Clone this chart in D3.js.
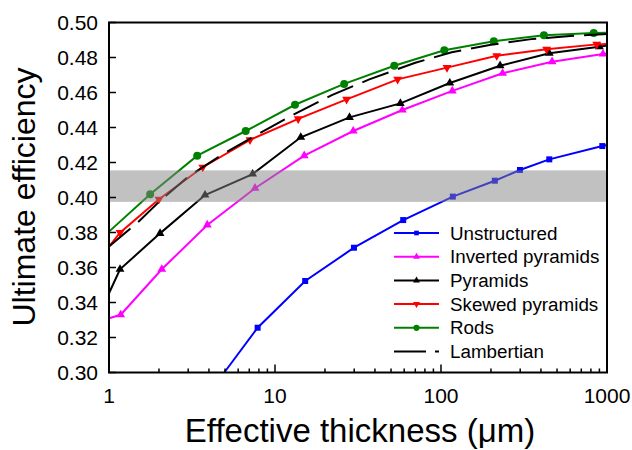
<!DOCTYPE html>
<html>
<head>
<meta charset="utf-8">
<script src="https://cdn.jsdelivr.net/npm/d3@7"></script>
<style>
  body { margin: 0; background: #fff; }
  text { font-family: Arial, "Liberation Sans", sans-serif; fill: #000; }
</style>
</head>
<body>
<svg id="chart"></svg>
<script>
// data (x = effective thickness in um, y = ultimate efficiency)
const unstructuredX = [7.86, 15.2, 29.9, 59.2, 117.8, 211, 299, 449, 937];
const unstructuredY = [0.3256, 0.3523, 0.3713, 0.3871, 0.4005, 0.4096, 0.4157, 0.4218, 0.4294];
const invertedX = [1.176, 2.08, 3.91, 7.58, 15.0, 29.6, 58.5, 117, 235, 467, 946];
const invertedY = [0.3330, 0.3590, 0.3843, 0.4053, 0.4239, 0.4380, 0.4500, 0.4609, 0.4710, 0.4776, 0.4820];
const pyramidsX = [1.165, 2.03, 3.79, 7.33, 14.3, 28.1, 56.9, 113, 227, 449, 900];
const pyramidsY = [0.3590, 0.3795, 0.4014, 0.4134, 0.4344, 0.4458, 0.4538, 0.4654, 0.4753, 0.4824, 0.4862];
const skewedX = [1.165, 2.0, 3.67, 7.07, 13.8, 27.0, 54.8, 108.7, 216.6, 433, 867];
const skewedY = [0.3799, 0.3990, 0.4173, 0.4329, 0.4449, 0.4561, 0.4675, 0.4742, 0.4810, 0.4847, 0.4875];
const rodsX = [1.77, 3.40, 6.66, 13.2, 26.1, 52.3, 104.7, 208, 417, 832];
const rodsY = [0.4018, 0.4239, 0.4380, 0.4530, 0.4649, 0.4753, 0.4841, 0.4893, 0.4927, 0.4940];
const lambertX = [1, 1.5, 2, 3, 5, 7.5, 13, 22, 37, 70, 116, 200, 350, 600, 1000];
const lambertY = [0.372, 0.386, 0.3975, 0.412, 0.4255, 0.435, 0.4475, 0.4585, 0.4675, 0.477, 0.483, 0.4873, 0.4905, 0.4923, 0.4934];

// where the marked lines meet the plot frame (left / right)
const lineStarts = { unstructured: [4.95, 0.30], inverted: [1, 0.3310], pyramids: [1, 0.3453], skewed: [1, 0.3719], rods: [1, 0.3805] };
const lineEnds = { unstructured: [1000, 0.4300], inverted: [1000, 0.4822], pyramids: [1000, 0.4868], skewed: [1000, 0.4877], rods: [1000, 0.4942] };

// shaded band
const bandRange = [0.3975, 0.4155];

const yTicks = [0.30, 0.32, 0.34, 0.36, 0.38, 0.40, 0.42, 0.44, 0.46, 0.48, 0.50];
const xTicks = [1, 10, 100, 1000];

// constants
const width = 632;
const height = 450;
const margin = { left: 109, right: 25, top: 22.5, bottom: 77.5 };

const svg = d3.select('#chart')
  .attr('width', width)
  .attr('height', height);

const xScale = d3.scaleLog().domain([1, 1000]).range([margin.left, width - margin.right]);
const yScale = d3.scaleLinear().domain([0.30, 0.50]).range([height - margin.bottom, margin.top]);

const series = [
  { key: 'unstructured', name: 'Unstructured', color: '#0000ff', symbol: d3.symbolSquare, size: 36, rot: 0, xs: unstructuredX, ys: unstructuredY },
  { key: 'inverted', name: 'Inverted pyramids', color: '#ff00ff', symbol: d3.symbolTriangle, size: 34, rot: 0, xs: invertedX, ys: invertedY },
  { key: 'pyramids', name: 'Pyramids', color: '#000000', symbol: d3.symbolTriangle, size: 34, rot: 0, xs: pyramidsX, ys: pyramidsY },
  { key: 'skewed', name: 'Skewed pyramids', color: '#ff0000', symbol: d3.symbolTriangle, size: 34, rot: 180, xs: skewedX, ys: skewedY },
  { key: 'rods', name: 'Rods', color: '#008000', symbol: d3.symbolCircle, size: 50, rot: 0, xs: rodsX, ys: rodsY }
];

const line = d3.line().x(d => xScale(d[0])).y(d => yScale(d[1]));

// marked series
series.forEach(s => {
  const pts = s.xs.map((x, i) => [x, s.ys[i]]);
  const full = [lineStarts[s.key]].concat(pts, [lineEnds[s.key]]);
  svg.append('path')
    .attr('d', line(full))
    .attr('fill', 'none')
    .attr('stroke', s.color)
    .attr('stroke-width', 2);
  svg.selectAll(null)
    .data(pts)
    .enter().append('path')
    .attr('d', d3.symbol().type(s.symbol).size(s.size))
    .attr('transform', d => 'translate(' + xScale(d[0]) + ',' + yScale(d[1]) + ') rotate(' + s.rot + ')')
    .attr('fill', s.color);
});

// lambertian limit (dashed)
svg.append('path')
  .attr('d', line(lambertX.map((x, i) => [x, lambertY[i]])))
  .attr('fill', 'none')
  .attr('stroke', '#000')
  .attr('stroke-width', 2)
  .attr('stroke-dasharray', '28,10');

// grey band over the lines
svg.append('rect')
  .attr('x', xScale(1))
  .attr('width', xScale(1000) - xScale(1))
  .attr('y', yScale(bandRange[1]))
  .attr('height', yScale(bandRange[0]) - yScale(bandRange[1]))
  .attr('fill', '#838383')
  .attr('opacity', 0.5);

// frame
svg.append('rect')
  .attr('x', xScale(1))
  .attr('y', yScale(0.50))
  .attr('width', xScale(1000) - xScale(1))
  .attr('height', yScale(0.30) - yScale(0.50))
  .attr('fill', 'none')
  .attr('stroke', '#000')
  .attr('stroke-width', 2);

// y axis ticks (inside) and labels
const yAxis = svg.append('g');
yAxis.selectAll('line')
  .data(yTicks)
  .enter().append('line')
  .attr('x1', xScale(1)).attr('x2', xScale(1) + 7)
  .attr('y1', d => yScale(d)).attr('y2', d => yScale(d))
  .attr('stroke', '#000').attr('stroke-width', 1.5);
yAxis.selectAll('text')
  .data(yTicks)
  .enter().append('text')
  .attr('x', xScale(1) - 11)
  .attr('y', d => yScale(d))
  .attr('dy', '0.35em')
  .attr('text-anchor', 'end')
  .style('font-size', '21px')
  .text(d => d3.format('.2f')(d));

// x axis major + minor ticks (inside)
const minorTicks = xScale.ticks().filter(d => !xTicks.includes(d));
const xAxis = svg.append('g');
xAxis.selectAll('line.minor')
  .data(minorTicks)
  .enter().append('line')
  .attr('class', 'minor')
  .attr('x1', d => xScale(d)).attr('x2', d => xScale(d))
  .attr('y1', yScale(0.30)).attr('y2', yScale(0.30) - 4)
  .attr('stroke', '#000').attr('stroke-width', 1.5);
xAxis.selectAll('line.major')
  .data(xTicks)
  .enter().append('line')
  .attr('class', 'major')
  .attr('x1', d => xScale(d)).attr('x2', d => xScale(d))
  .attr('y1', yScale(0.30)).attr('y2', yScale(0.30) - 8)
  .attr('stroke', '#000').attr('stroke-width', 1.5);
xAxis.selectAll('text')
  .data(xTicks)
  .enter().append('text')
  .attr('x', d => xScale(d))
  .attr('y', 403)
  .attr('text-anchor', 'middle')
  .style('font-size', '21px')
  .text(d => d);

// axis titles
svg.append('text')
  .attr('x', 360)
  .attr('y', 442)
  .attr('text-anchor', 'middle')
  .style('font-size', '33px')
  .text('Effective thickness (\u03bcm)');

svg.append('text')
  .attr('transform', 'translate(35,' + 197 + ') rotate(-90)')
  .attr('text-anchor', 'middle')
  .style('font-size', '32px')
  .text('Ultimate efficiency');

// legend
const legendItems = series.concat([{ name: 'Lambertian', color: '#000', symbol: null }]);
const legend = svg.append('g').attr('transform', 'translate(394,233)');
legendItems.forEach((s, i) => {
  const g = legend.append('g').attr('transform', 'translate(0,' + (i * 23.7) + ')');
  g.append('line')
    .attr('x1', 0).attr('x2', 45)
    .attr('stroke', s.color)
    .attr('stroke-width', 2)
    .attr('stroke-dasharray', s.symbol ? null : '32,9');
  if (s.symbol) {
    g.append('path')
      .attr('d', d3.symbol().type(s.symbol).size(s.size * 0.6))
      .attr('transform', 'translate(22.5,0) rotate(' + s.rot + ')')
      .attr('fill', s.color);
  }
  g.append('text')
    .attr('x', 56)
    .attr('dy', '0.35em')
    .style('font-size', '18.8px')
    .text(s.name);
});
</script>
</body>
</html>
